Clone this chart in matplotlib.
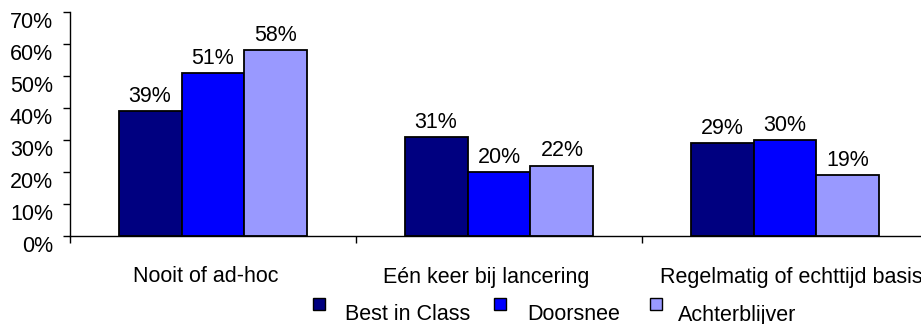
import matplotlib.pyplot as plt
from matplotlib.patches import Rectangle
import matplotlib.transforms as mtransforms

plt.rcParams['font.family'] = ['Liberation Sans', 'DejaVu Sans']

# data
categories = ["Nooit of ad-hoc", "Eén keer bij lancering", "Regelmatig of echttijd basis"]
series = ["Best in Class", "Doorsnee", "Achterblijver"]
best_in_class = [39, 31, 29]
doorsnee = [51, 20, 30]
achterblijver = [58, 22, 19]
colors = ["#000080", "#0000FF", "#9999FF"]
yticks = [0, 10, 20, 30, 40, 50, 60, 70]

fig = plt.figure(figsize=(9.21, 3.24), dpi=100)
W, H = 921, 324
ax = fig.add_axes([70 / W, (H - 236) / H, (928 - 70) / W, 224 / H])

values = [best_in_class, doorsnee, achterblijver]
bw = 0.22
for j, (vals, col) in enumerate(zip(values, colors)):
    xs = [i + 0.5 + (j - 1) * bw for i in range(len(categories))]
    bars = ax.bar(xs, vals, width=bw, color=col, edgecolor="black", linewidth=1.3, zorder=2)
    for b, v in zip(bars, vals):
        ax.annotate(f"{v}%", (b.get_x() + b.get_width() / 2, v), xytext=(0, 3),
                    textcoords="offset points", ha="center", va="bottom", fontsize=15.5)

ax.set_xlim(0, 3)
ax.set_ylim(0, 70)
ax.set_yticks(yticks)
ax.set_yticklabels([])
ax.tick_params(axis="y", direction="out", length=5, width=1)
# y labels sit a bit below their ticks, like the original
ylab_tr = mtransforms.blended_transform_factory(ax.transAxes, ax.transData) + \
    mtransforms.ScaledTranslation(-17 / 100, -10 / 100, fig.dpi_scale_trans)
for t in yticks:
    ax.text(0, t, f"{t}%", transform=ylab_tr, ha="right", va="center", fontsize=15.5,
            clip_on=False)

ax.set_xticks([0, 1, 2, 3])
ax.set_xticklabels([])
ax.tick_params(axis="x", direction="out", length=5, width=1)

for s in ["top", "right"]:
    ax.spines[s].set_visible(False)
ax.spines["left"].set_linewidth(1)
ax.spines["bottom"].set_linewidth(1)

# category labels
shifts = [-7, -13, 6]
for i, (cat, dx) in enumerate(zip(categories, shifts)):
    t = mtransforms.blended_transform_factory(ax.transData, ax.transAxes) + \
        mtransforms.ScaledTranslation(dx / 100, -41 / 100, fig.dpi_scale_trans)
    ax.text(i + 0.5, 0, cat, transform=t, fontsize=15.5, ha="center", va="center",
            clip_on=False)

# legend
leg_x = [313, 494, 650]
leg_tx = [345, 527, 678]
for name, col, x, tx in zip(series, colors, leg_x, leg_tx):
    fig.patches.append(Rectangle((x / W, (H - 310) / H), 12 / W, 12 / H, facecolor=col,
                                 edgecolor="black", linewidth=1, transform=fig.transFigure))
    fig.text(tx / W, (H - 315) / H, name, fontsize=15.5, ha="left", va="center")

fig.savefig("out.png", dpi=100)
